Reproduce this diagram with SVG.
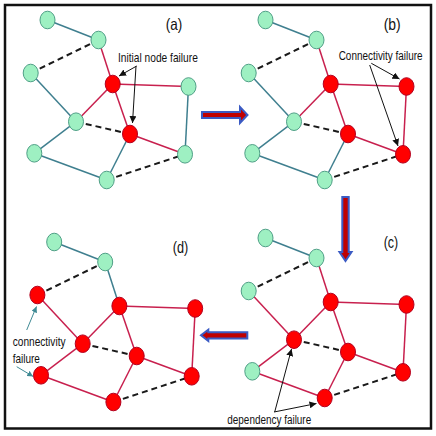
<svg xmlns="http://www.w3.org/2000/svg" width="436" height="436" viewBox="0 0 436 436">
<style>
.g{fill:#9ef0c2;stroke:#4f9f86;stroke-width:1}
.r{fill:#ff0000;stroke:#b3001e;stroke-width:1}
.et{stroke:#3f7f8f;stroke-width:1.5;fill:none}
.er{stroke:#c8204e;stroke-width:1.5;fill:none}
.ed{stroke:#1a1a1a;stroke-width:2;stroke-dasharray:6 4;fill:none}
.lbl{font-family:"Liberation Sans",Arial,sans-serif;font-size:16.5px;fill:#111}
.note{font-family:"Liberation Sans",Arial,sans-serif;font-size:12.5px;fill:#111}
.ann{stroke:#111;stroke-width:1;fill:none;marker-end:url(#ah)}
.annt{stroke:#3f8a94;stroke-width:1;fill:none;marker-end:url(#aht)}
.blk{fill:#c00000;stroke:#3b5bc4;stroke-width:2;stroke-linejoin:miter}
</style>
<defs>
<marker id="ah" viewBox="0 0 10 10" refX="10" refY="5" markerWidth="7" markerHeight="7" markerUnits="userSpaceOnUse" orient="auto"><path d="M0,0 L10,5 L0,10 z" fill="#111"/></marker>
<marker id="aht" viewBox="0 0 10 10" refX="10" refY="5" markerWidth="6" markerHeight="6" markerUnits="userSpaceOnUse" orient="auto"><path d="M0,0 L10,5 L0,10 z" fill="#3f8a94"/></marker>
</defs>
<rect x="0" y="0" width="436" height="436" fill="#fff"/>
<rect x="5" y="5" width="426" height="423.5" fill="#fff" stroke="#111" stroke-width="2.5"/>

<!-- Panel (a) -->
<g id="panel-a">
<g id="connectors-a">
<line class="et" x1="47.5" y1="20" x2="98.5" y2="40"/>
<line class="er" x1="98.5" y1="40" x2="112.7" y2="84"/>
<line class="ed" x1="30.7" y1="73" x2="98.5" y2="40"/>
<line class="et" x1="30.7" y1="73" x2="76" y2="121.7"/>
<line class="er" x1="112.7" y1="84" x2="188.5" y2="86.5"/>
<line class="er" x1="112.7" y1="84" x2="76" y2="121.7"/>
<line class="er" x1="112.7" y1="84" x2="130" y2="134"/>
<line class="et" x1="188.5" y1="86.5" x2="185" y2="154.3"/>
<line class="ed" x1="76" y1="121.7" x2="130" y2="134"/>
<line class="et" x1="76" y1="121.7" x2="34.3" y2="153.3"/>
<line class="er" x1="130" y1="134" x2="185" y2="154.3"/>
<line class="et" x1="130" y1="134" x2="106.7" y2="180"/>
<line class="et" x1="34.3" y1="153.3" x2="106.7" y2="180"/>
<line class="ed" x1="106.7" y1="180" x2="185" y2="154.3"/>
<line class="ann" x1="136.7" y1="66" x2="119" y2="76"/>
<line class="ann" x1="136" y1="66" x2="132.5" y2="123"/>
</g>
<g id="a-n1"><ellipse class="g" cx="47.5" cy="20" rx="7.5" ry="8.8"/></g>
<g id="a-n2"><ellipse class="g" cx="98.5" cy="40" rx="7.5" ry="8.8"/></g>
<g id="a-n3"><ellipse class="g" cx="30.7" cy="73" rx="7.5" ry="8.8"/></g>
<g id="a-n4"><ellipse class="r" cx="112.7" cy="84" rx="7.5" ry="8.8"/></g>
<g id="a-n5"><ellipse class="g" cx="188.5" cy="86.5" rx="7.5" ry="8.8"/></g>
<g id="a-n6"><ellipse class="g" cx="76" cy="121.7" rx="7.5" ry="8.8"/></g>
<g id="a-n7"><ellipse class="r" cx="130" cy="134" rx="7.5" ry="8.8"/></g>
<g id="a-n8"><ellipse class="g" cx="34.3" cy="153.3" rx="7.5" ry="8.8"/></g>
<g id="a-n9"><ellipse class="g" cx="185" cy="154.3" rx="7.5" ry="8.8"/></g>
<g id="a-n10"><ellipse class="g" cx="106.7" cy="180" rx="7.5" ry="8.8"/></g>
<text class="lbl" x="165.7" y="30" textLength="16.5" lengthAdjust="spacingAndGlyphs">(a)</text>
<text class="note" transform="translate(118,61.5) scale(0.816,1)">Initial node failure</text>
</g>

<!-- Panel (b) -->
<g id="panel-b" transform="translate(218,0)">
<g id="connectors-b">
<line class="et" x1="47.5" y1="20" x2="98.5" y2="40"/>
<line class="er" x1="98.5" y1="40" x2="112.7" y2="84"/>
<line class="ed" x1="30.7" y1="73" x2="98.5" y2="40"/>
<line class="et" x1="30.7" y1="73" x2="76" y2="121.7"/>
<line class="er" x1="112.7" y1="84" x2="188.5" y2="86.5"/>
<line class="er" x1="112.7" y1="84" x2="76" y2="121.7"/>
<line class="er" x1="112.7" y1="84" x2="130" y2="134"/>
<line class="er" x1="188.5" y1="86.5" x2="185" y2="154.3"/>
<line class="ed" x1="76" y1="121.7" x2="130" y2="134"/>
<line class="et" x1="76" y1="121.7" x2="34.3" y2="153.3"/>
<line class="er" x1="130" y1="134" x2="185" y2="154.3"/>
<line class="et" x1="130" y1="134" x2="106.7" y2="180"/>
<line class="et" x1="34.3" y1="153.3" x2="106.7" y2="180"/>
<line class="ed" x1="106.7" y1="180" x2="185" y2="154.3"/>
<line class="ann" x1="153.3" y1="63.3" x2="181.5" y2="79"/>
<line class="ann" x1="151.7" y1="65" x2="180" y2="146"/>
</g>
<g id="b-n1"><ellipse class="g" cx="47.5" cy="20" rx="7.5" ry="8.8"/></g>
<g id="b-n2"><ellipse class="g" cx="98.5" cy="40" rx="7.5" ry="8.8"/></g>
<g id="b-n3"><ellipse class="g" cx="30.7" cy="73" rx="7.5" ry="8.8"/></g>
<g id="b-n4"><ellipse class="r" cx="112.7" cy="84" rx="7.5" ry="8.8"/></g>
<g id="b-n5"><ellipse class="r" cx="188.5" cy="86.5" rx="7.5" ry="8.8"/></g>
<g id="b-n6"><ellipse class="g" cx="76" cy="121.7" rx="7.5" ry="8.8"/></g>
<g id="b-n7"><ellipse class="r" cx="130" cy="134" rx="7.5" ry="8.8"/></g>
<g id="b-n8"><ellipse class="g" cx="34.3" cy="153.3" rx="7.5" ry="8.8"/></g>
<g id="b-n9"><ellipse class="r" cx="185" cy="154.3" rx="7.5" ry="8.8"/></g>
<g id="b-n10"><ellipse class="g" cx="106.7" cy="180" rx="7.5" ry="8.8"/></g>
<text class="lbl" x="165.7" y="30" textLength="17" lengthAdjust="spacingAndGlyphs">(b)</text>
<text class="note" transform="translate(120.7,59.5) scale(0.795,1)">Connectivity failure</text>
</g>

<!-- Panel (c) -->
<g id="panel-c" transform="translate(218,218)">
<g id="connectors-c">
<line class="et" x1="47.5" y1="20" x2="98.5" y2="40"/>
<line class="er" x1="98.5" y1="40" x2="112.7" y2="84"/>
<line class="ed" x1="30.7" y1="73" x2="98.5" y2="40"/>
<line class="er" x1="30.7" y1="73" x2="76" y2="121.7"/>
<line class="er" x1="112.7" y1="84" x2="188.5" y2="86.5"/>
<line class="er" x1="112.7" y1="84" x2="76" y2="121.7"/>
<line class="er" x1="112.7" y1="84" x2="130" y2="134"/>
<line class="er" x1="188.5" y1="86.5" x2="185" y2="154.3"/>
<line class="ed" x1="76" y1="121.7" x2="130" y2="134"/>
<line class="er" x1="76" y1="121.7" x2="34.3" y2="153.3"/>
<line class="er" x1="130" y1="134" x2="185" y2="154.3"/>
<line class="er" x1="130" y1="134" x2="106.7" y2="180"/>
<line class="er" x1="34.3" y1="153.3" x2="106.7" y2="180"/>
<line class="ed" x1="106.7" y1="180" x2="185" y2="154.3"/>
<line class="ann" x1="56.7" y1="194" x2="73.5" y2="131"/>
<line class="ann" x1="56" y1="194" x2="98.5" y2="185.5"/>
</g>
<g id="c-n1"><ellipse class="g" cx="47.5" cy="20" rx="7.5" ry="8.8"/></g>
<g id="c-n2"><ellipse class="g" cx="98.5" cy="40" rx="7.5" ry="8.8"/></g>
<g id="c-n3"><ellipse class="g" cx="30.7" cy="73" rx="7.5" ry="8.8"/></g>
<g id="c-n4"><ellipse class="r" cx="112.7" cy="84" rx="7.5" ry="8.8"/></g>
<g id="c-n5"><ellipse class="r" cx="188.5" cy="86.5" rx="7.5" ry="8.8"/></g>
<g id="c-n6"><ellipse class="r" cx="76" cy="121.7" rx="7.5" ry="8.8"/></g>
<g id="c-n7"><ellipse class="r" cx="130" cy="134" rx="7.5" ry="8.8"/></g>
<g id="c-n8"><ellipse class="g" cx="34.3" cy="153.3" rx="7.5" ry="8.8"/></g>
<g id="c-n9"><ellipse class="r" cx="185" cy="154.3" rx="7.5" ry="8.8"/></g>
<g id="c-n10"><ellipse class="r" cx="106.7" cy="180" rx="7.5" ry="8.8"/></g>
<text class="lbl" x="165.7" y="30.4" textLength="14.5" lengthAdjust="spacingAndGlyphs">(c)</text>
<text class="note" transform="translate(9.3,206) scale(0.795,1)">dependency failure</text>
</g>

<!-- Panel (d) -->
<g id="panel-d" transform="translate(6.7,222)">
<g id="connectors-d">
<line class="et" x1="47.5" y1="20" x2="98.5" y2="40"/>
<line class="et" x1="98.5" y1="40" x2="112.7" y2="84"/>
<line class="ed" x1="30.7" y1="73" x2="98.5" y2="40"/>
<line class="er" x1="30.7" y1="73" x2="76" y2="121.7"/>
<line class="er" x1="112.7" y1="84" x2="188.5" y2="86.5"/>
<line class="er" x1="112.7" y1="84" x2="76" y2="121.7"/>
<line class="er" x1="112.7" y1="84" x2="130" y2="134"/>
<line class="er" x1="188.5" y1="86.5" x2="185" y2="154.3"/>
<line class="ed" x1="76" y1="121.7" x2="130" y2="134"/>
<line class="er" x1="76" y1="121.7" x2="34.3" y2="153.3"/>
<line class="er" x1="130" y1="134" x2="185" y2="154.3"/>
<line class="er" x1="130" y1="134" x2="106.7" y2="180"/>
<line class="er" x1="34.3" y1="153.3" x2="106.7" y2="180"/>
<line class="ed" x1="106.7" y1="180" x2="185" y2="154.3"/>
<line class="annt" x1="20" y1="108" x2="29.8" y2="84.5"/>
<line class="annt" x1="10" y1="144.7" x2="26.5" y2="154.5"/>
</g>
<g id="d-n1"><ellipse class="g" cx="47.5" cy="20" rx="7.5" ry="8.8"/></g>
<g id="d-n2"><ellipse class="g" cx="98.5" cy="40" rx="7.5" ry="8.8"/></g>
<g id="d-n3"><ellipse class="r" cx="30.7" cy="73" rx="7.5" ry="8.8"/></g>
<g id="d-n4"><ellipse class="r" cx="112.7" cy="84" rx="7.5" ry="8.8"/></g>
<g id="d-n5"><ellipse class="r" cx="188.5" cy="86.5" rx="7.5" ry="8.8"/></g>
<g id="d-n6"><ellipse class="r" cx="76" cy="121.7" rx="7.5" ry="8.8"/></g>
<g id="d-n7"><ellipse class="r" cx="130" cy="134" rx="7.5" ry="8.8"/></g>
<g id="d-n8"><ellipse class="r" cx="34.3" cy="153.3" rx="7.5" ry="8.8"/></g>
<g id="d-n9"><ellipse class="r" cx="185" cy="154.3" rx="7.5" ry="8.8"/></g>
<g id="d-n10"><ellipse class="r" cx="106.7" cy="180" rx="7.5" ry="8.8"/></g>
<text class="lbl" x="166" y="31.4" textLength="15.5" lengthAdjust="spacingAndGlyphs">(d)</text>
<text class="note" transform="translate(6,123.5) scale(0.81,1)">connectivity</text>
<text class="note" transform="translate(6,141) scale(0.8,1)">failure</text>
</g>

<!-- Transition arrows -->
<g id="transitions">
<polygon class="blk" points="202,112 240,112 240,107 247.5,115 240,123 240,118 202,118"/>
<polygon class="blk" points="342.3,197 348.7,197 348.7,252 351.5,252 345.5,261 339.5,252 342.3,252"/>
<polygon class="blk" points="247.3,332.2 208.3,332.2 208.3,329.7 201,335.3 208.3,341 208.3,338.5 247.3,338.5"/>
</g>
</svg>
